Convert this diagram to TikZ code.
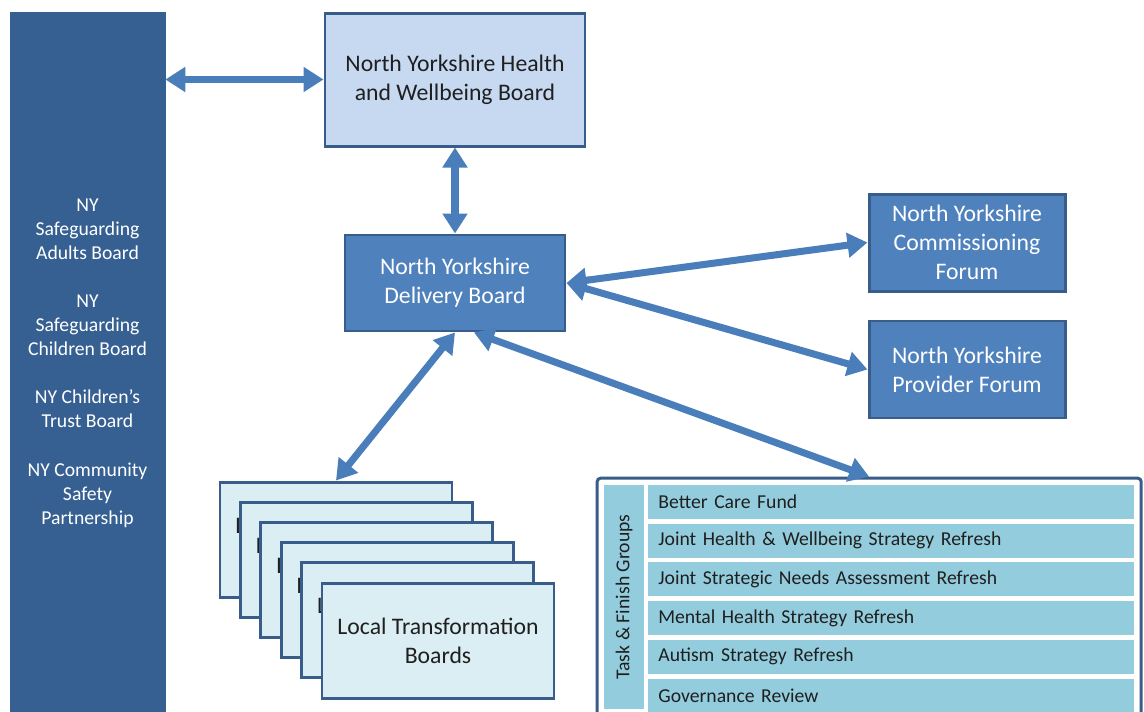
\documentclass[tikz,border=0pt]{standalone}
\usepackage{fontspec}
\setmainfont{Carlito}
\usepackage{xcolor}
\usepackage{tikz}
\usetikzlibrary{arrows.meta, positioning, fit}

\definecolor{navy}{HTML}{366092}
\definecolor{edge}{HTML}{385D8A}
\definecolor{linkblue}{HTML}{4A7EBB}
\definecolor{paleblue}{HTML}{C6D9F1}
\definecolor{midblue}{HTML}{4F81BD}
\definecolor{iceblue}{HTML}{DBEEF4}
\definecolor{aqua}{HTML}{93CDDD}

\begin{document}
\begin{tikzpicture}[
    box/.style={rectangle, draw=edge, line width=1.7pt, align=center, font=\fontsize{13.5}{16.5}\selectfont},
    hwbbox/.style={box, fill=paleblue, text=black!88, minimum width=5.2cm, minimum height=2.66cm},
    forum/.style={box, fill=midblue, text=white, minimum width=3.92cm, minimum height=1.94cm},
    local/.style={box, fill=iceblue, text=black!88, minimum width=4.64cm, minimum height=2.3cm},
    group/.style={rectangle, fill=aqua, minimum width=9.72cm, minimum height=0.68cm, text width=9.32cm, inner xsep=0.2cm, align=left, anchor=west, font=\fontsize{11.2}{14}\selectfont, text=black!88},
    link/.style={<->, line width=4pt, color=linkblue},
    >={Triangle[width=0.48cm,length=0.4cm]}
]
\path[use as bounding box, clip] (0,0) rectangle (22.88,-14.22);
\fill[white] (0,0) rectangle (22.88,-14.22);

% Nodes
\node[fill=navy, draw=navy, minimum width=3.1cm, minimum height=14.04cm, text=white, align=center,
      font=\fontsize{11.2}{13.7}\selectfont] (partners) at (1.75,-7.26)
    {NY\\Safeguarding\\Adults Board\\[13.7pt]NY\\Safeguarding\\Children Board\\[13.7pt]NY Children's\\Trust Board\\[13.7pt]NY Community\\Safety\\Partnership};

\node[hwbbox] (hwb) at (9.1,-1.59) {North Yorkshire Health\\and Wellbeing Board};
\node[forum, minimum width=4.4cm, minimum height=1.92cm, below=1.72cm of hwb] (delivery) {North Yorkshire\\Delivery Board};

\node[forum] (commissioning) at (19.34,-4.85) {North Yorkshire\\Commissioning\\Forum};
\node[forum, below=0.54cm of commissioning] (provider) {North Yorkshire\\Provider Forum};

% stacked boards
\node[local] (ltb1) at (6.72,-10.79) {Local Transformation\\Boards};
\node[local] (ltb2) at ([shift={(0.408,-0.404)}]ltb1) {Local Transformation\\Boards};
\node[local] (ltb3) at ([shift={(0.408,-0.404)}]ltb2) {Local Transformation\\Boards};
\node[local] (ltb4) at ([shift={(0.408,-0.404)}]ltb3) {Local Transformation\\Boards};
\node[local] (ltb5) at ([shift={(0.408,-0.404)}]ltb4) {Local Transformation\\Boards};
\node[local] (ltb6) at ([shift={(0.408,-0.404)}]ltb5) {Local Transformation\\Boards};

% task and finish groups
\node[group] (tf1) at (12.96,-10.04) {Better Care Fund};
\node[group, below=0.08cm of tf1] (tf2) {Joint Health \& Wellbeing Strategy Refresh};
\node[group, below=0.08cm of tf2] (tf3) {Joint Strategic Needs Assessment Refresh};
\node[group, below=0.08cm of tf3] (tf4) {Mental Health Strategy Refresh};
\node[group, below=0.08cm of tf4] (tf5) {Autism Strategy Refresh};
\node[group, below=0.08cm of tf5] (tf6) {Governance Review};
\node[rotate=90, fill=aqua, minimum width=4.48cm, minimum height=0.8cm, text=black!88,
      font=\fontsize{11.2}{14}\selectfont] (tflabel) at (12.48,-11.94) {Task \& Finish Groups};
\node[draw=edge, line width=1.7pt, rounded corners=2pt, inner sep=0.13cm, fit=(tflabel)(tf1)(tf6)] (tfframe) {};

% Connections
\draw[link] (hwb.west) -- (hwb.west -| partners.east);
\draw[link] (hwb.south) -- (delivery.north);
\draw[link] (delivery.east) -- (commissioning.west);
\draw[link] (delivery.east) -- (provider.west);
\draw[link] (delivery.south) -- (ltb1.north);
\draw[link] (delivery.-69) -- (tfframe.north);

\end{tikzpicture}
\end{document}
